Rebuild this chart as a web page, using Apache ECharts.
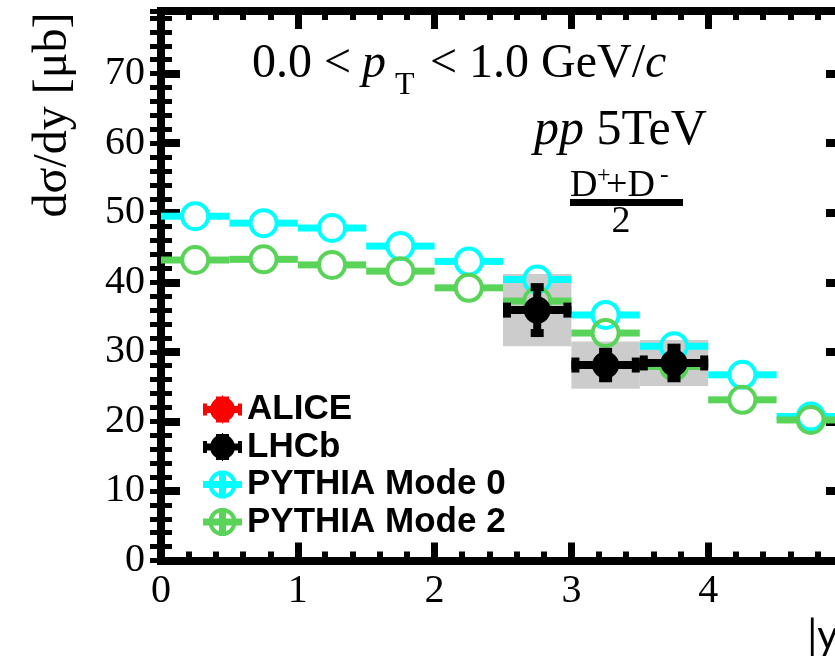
<!DOCTYPE html>
<html><head><meta charset="utf-8">
<script src="https://cdn.jsdelivr.net/npm/echarts@6/dist/echarts.min.js"></script>
<style>html,body{margin:0;padding:0;width:835px;height:672px;overflow:hidden;background:#fff}
#c{width:880px;height:672px}</style></head>
<body><div id="c"></div>
<script>
// ---- data ----
const binCenters = [0.25, 0.75, 1.25, 1.75, 2.25, 2.75, 3.25, 3.75, 4.25, 4.75];
const binHalfWidth = 0.25;
const pythiaMode0 = [49.5, 48.5, 47.8, 45.2, 43.0, 40.4, 35.3, 30.8, 26.7, 20.7];
const pythiaMode2 = [43.2, 43.3, 42.5, 41.6, 39.2, 37.3, 32.7, 27.9, 23.1, 20.2];
const lhcbCenters = [2.75, 3.25, 3.75];
const lhcbValues = [36.0, 28.1, 28.4];
const lhcbStat = [3.3, 1.9, 2.2];
const lhcbSyst = [5.2, 3.4, 3.3];
const aliceValues = [];
const xTickLabels = ['0', '1', '2', '3', '4', '5'];
const yTickLabels = ['0', '10', '20', '30', '40', '50', '60', '70'];
const legendNames = ['ALICE', 'LHCb', 'PYTHIA Mode 0', 'PYTHIA Mode 2'];

const CYAN = '#00ffff', GREEN = '#59d459', RED = '#ff0000', BLACK = '#000000', SYS = '#cccccc';

const chart = echarts.init(document.getElementById('c'), null, {renderer: 'canvas'});

function pythiaRender(color) {
  return function (params, api) {
    const x = api.value(0), y = api.value(1), hw = api.value(2);
    const c = api.coord([x, y]);
    const l = api.coord([x - hw, y]);
    const r = api.coord([x + hw, y]);
    const R = 13;
    return {type: 'group', children: [
      {type: 'rect', shape: {x: l[0], y: c[1] - 3.5, width: Math.max(0, c[0] - R - l[0]), height: 7}, style: {fill: color}},
      {type: 'rect', shape: {x: c[0] + R, y: c[1] - 3.5, width: Math.max(0, r[0] - c[0] - R), height: 7}, style: {fill: color}},
      {type: 'circle', shape: {cx: c[0], cy: c[1], r: R}, style: {fill: null, stroke: color, lineWidth: 4}}
    ]};
  };
}

function sysRender(params, api) {
  const x = api.value(0), y = api.value(1), s = api.value(3), hw = api.value(4);
  const p1 = api.coord([x - hw, y + s]);
  const p2 = api.coord([x + hw, y - s]);
  return {type: 'rect', shape: {x: p1[0], y: p1[1], width: p2[0] - p1[0], height: p2[1] - p1[1]}, style: {fill: SYS}};
}

function lhcbRender(params, api) {
  const x = api.value(0), y = api.value(1), e = api.value(2), hw = api.value(4);
  const c = api.coord([x, y]);
  const l = api.coord([x - hw, y]);
  const r = api.coord([x + hw, y]);
  const t = api.coord([x, y + e]);
  const b = api.coord([x, y - e]);
  return {type: 'group', children: [
    {type: 'rect', shape: {x: l[0], y: c[1] - 4, width: r[0] - l[0], height: 8}, style: {fill: BLACK}},
    {type: 'rect', shape: {x: l[0], y: c[1] - 7.5, width: 8, height: 15}, style: {fill: BLACK}},
    {type: 'rect', shape: {x: r[0] - 8, y: c[1] - 7.5, width: 8, height: 15}, style: {fill: BLACK}},
    {type: 'rect', shape: {x: c[0] - 4, y: t[1], width: 8, height: b[1] - t[1]}, style: {fill: BLACK}},
    {type: 'rect', shape: {x: c[0] - 6.5, y: t[1] - 4, width: 13, height: 8}, style: {fill: BLACK}},
    {type: 'rect', shape: {x: c[0] - 6.5, y: b[1] - 4, width: 13, height: 8}, style: {fill: BLACK}},
    {type: 'circle', shape: {cx: c[0], cy: c[1], r: 13.5}, style: {fill: BLACK}}
  ]};
}

const pythia0Data = binCenters.map((x, i) => [x, pythiaMode0[i], binHalfWidth]);
const pythia2Data = binCenters.map((x, i) => [x, pythiaMode2[i], binHalfWidth]);
const lhcbData = lhcbCenters.map((x, i) => [x, lhcbValues[i], lhcbStat[i], lhcbSyst[i], binHalfWidth]);

const filledIcon = 'path://M7 14 A12.5 12.5 0 1 1 32 14 A12.5 12.5 0 1 1 7 14 Z M0 10.5 H39 V17.5 H0 Z M0 8 H4 V20 H0 Z M35 8 H39 V20 H35 Z M13 1 H26 V5 H13 Z M13 23 H26 V27 H13 Z M19 0 H20 V28 H19 Z';
const ringIcon = 'path://M5.5 14 A14 14 0 1 1 33.5 14 A14 14 0 1 1 5.5 14 Z M9.5 14 A10 10 0 1 0 29.5 14 A10 10 0 1 0 9.5 14 Z M0 10.5 H39 V17.5 H0 Z M16 0 H23 V28 H16 Z';

const serif = '"Liberation Serif", "Times New Roman", serif';

function xAxisCfg(pos, labels) {
  return {
    type: 'value', gridIndex: 0, position: pos, min: 0, max: 5, interval: 1,
    axisLine: {show: true, onZero: false, lineStyle: {color: BLACK, width: 8, cap: 'square'}},
    axisTick: {show: true, inside: true, length: 18, lineStyle: {color: BLACK, width: 7}},
    minorTick: {show: true, splitNumber: 5, length: 9, lineStyle: {color: BLACK, width: 6}},
    splitLine: {show: false}, minorSplitLine: {show: false},
    axisLabel: labels ? {show: true, color: BLACK, fontFamily: serif, fontSize: 40, margin: 11,
      formatter: v => xTickLabels[Math.round(v)] || ''} : {show: false}
  };
}
function yMajor(pos, labels) {
  return {
    type: 'value', gridIndex: 0, position: pos, min: 0, max: 79, interval: 10,
    axisLine: {show: true, onZero: false, lineStyle: {color: BLACK, width: 8, cap: 'square'}},
    axisTick: {show: true, inside: true, length: 19, lineStyle: {color: BLACK, width: 8}},
    splitLine: {show: false},
    axisLabel: labels ? {show: true, color: BLACK, fontFamily: serif, fontSize: 40, margin: 16,
      formatter: v => (v % 10 === 0 ? (yTickLabels[v / 10] || '') : '')} : {show: false}
  };
}
function yMinor(pos) {
  return {
    type: 'value', gridIndex: 0, position: pos, min: 0, max: 79, interval: 2,
    axisLine: {show: false}, splitLine: {show: false}, axisLabel: {show: false},
    axisTick: {show: true, inside: true, length: 11, lineStyle: {color: BLACK, width: 5}}
  };
}

const option = {
  animation: false,
  backgroundColor: '#ffffff',
  grid: {left: 161, right: 35, top: 11, bottom: 111.5, containLabel: false, outerBoundsMode: 'none'},
  xAxis: [xAxisCfg('bottom', true), xAxisCfg('top', false)],
  yAxis: [yMajor('left', true), yMinor('left'), yMajor('right', false), yMinor('right')],
  legend: {
    orient: 'vertical', left: 203, top: 392, padding: 0, itemGap: 2.5,
    itemWidth: 39, itemHeight: 28, selectedMode: false,
    textStyle: {fontFamily: '"Liberation Sans", Arial, sans-serif', fontWeight: 'bold', fontSize: 35, color: BLACK},
    data: [
      {name: legendNames[0], icon: filledIcon, itemStyle: {color: RED}},
      {name: legendNames[1], icon: filledIcon, itemStyle: {color: BLACK}},
      {name: legendNames[2], icon: ringIcon, itemStyle: {color: CYAN}},
      {name: legendNames[3], icon: ringIcon, itemStyle: {color: GREEN}}
    ]
  },
  series: [
    {type: 'custom', name: 'LHCb syst', xAxisIndex: 0, yAxisIndex: 0, renderItem: sysRender, data: lhcbData, encode: {x: 0, y: 1}, clip: false, z: 1},
    {type: 'custom', name: legendNames[0], xAxisIndex: 0, yAxisIndex: 0, itemStyle: {color: RED}, renderItem: lhcbRender, data: aliceValues, z: 2},
    {type: 'custom', name: legendNames[2], xAxisIndex: 0, yAxisIndex: 0, itemStyle: {color: CYAN}, renderItem: pythiaRender(CYAN), data: pythia0Data, encode: {x: 0, y: 1}, clip: false, z: 3},
    {type: 'custom', name: legendNames[3], xAxisIndex: 0, yAxisIndex: 0, itemStyle: {color: GREEN}, renderItem: pythiaRender(GREEN), data: pythia2Data, encode: {x: 0, y: 1}, clip: false, z: 4},
    {type: 'custom', name: legendNames[1], xAxisIndex: 0, yAxisIndex: 0, itemStyle: {color: BLACK}, renderItem: lhcbRender, data: lhcbData, encode: {x: 0, y: 1}, clip: false, z: 5}
  ],
  graphic: [
    {type: 'text', x: 53, y: 115, rotation: Math.PI / 2, style: {text: 'dσ/dy [μb]', font: '48px ' + serif, fill: BLACK, align: 'center', verticalAlign: 'middle'}},
    {type: 'text', x: 252, y: 64, style: {text: '0.0 <', font: '48px ' + serif, fill: BLACK, verticalAlign: 'middle'}},
    {type: 'text', x: 362, y: 64, style: {text: 'p', font: 'italic 48px ' + serif, fill: BLACK, verticalAlign: 'middle'}},
    {type: 'text', x: 395, y: 86, style: {text: 'T', font: '32px ' + serif, fill: BLACK, verticalAlign: 'middle'}},
    {type: 'text', x: 430, y: 64, style: {text: '{n|< 1.0 GeV/}{i|c}', fill: BLACK, verticalAlign: 'middle',
      rich: {n: {font: '48px ' + serif, fill: BLACK}, i: {font: 'italic 48px ' + serif, fill: BLACK}}}},
    {type: 'text', x: 534, y: 131, style: {text: '{i|pp}{n| 5TeV}', fill: BLACK, verticalAlign: 'middle',
      rich: {n: {font: '50px ' + serif, fill: BLACK}, i: {font: 'italic 50px ' + serif, fill: BLACK}}}},
    {type: 'text', x: 570, y: 186, style: {text: 'D', font: '38px ' + serif, fill: BLACK, verticalAlign: 'middle'}},
    {type: 'text', x: 597, y: 176, style: {text: '+', font: '24px ' + serif, fill: BLACK, verticalAlign: 'middle'}},
    {type: 'text', x: 606, y: 186, style: {text: '+D', font: '38px ' + serif, fill: BLACK, verticalAlign: 'middle'}},
    {type: 'text', x: 660, y: 175, style: {text: '-', font: '26px ' + serif, fill: BLACK, verticalAlign: 'middle'}},
    {type: 'rect', shape: {x: 570, y: 199, width: 113, height: 7}, style: {fill: BLACK}},
    {type: 'text', x: 621, y: 222, style: {text: '2', font: '38px ' + serif, fill: BLACK, align: 'center', verticalAlign: 'middle'}},
    {type: 'text', x: 848, y: 636, style: {text: '|y|', font: '40px Lato, "DejaVu Sans", sans-serif', fill: BLACK, align: 'right', verticalAlign: 'middle'}}
  ]
};
chart.setOption(option);
</script></body></html>
